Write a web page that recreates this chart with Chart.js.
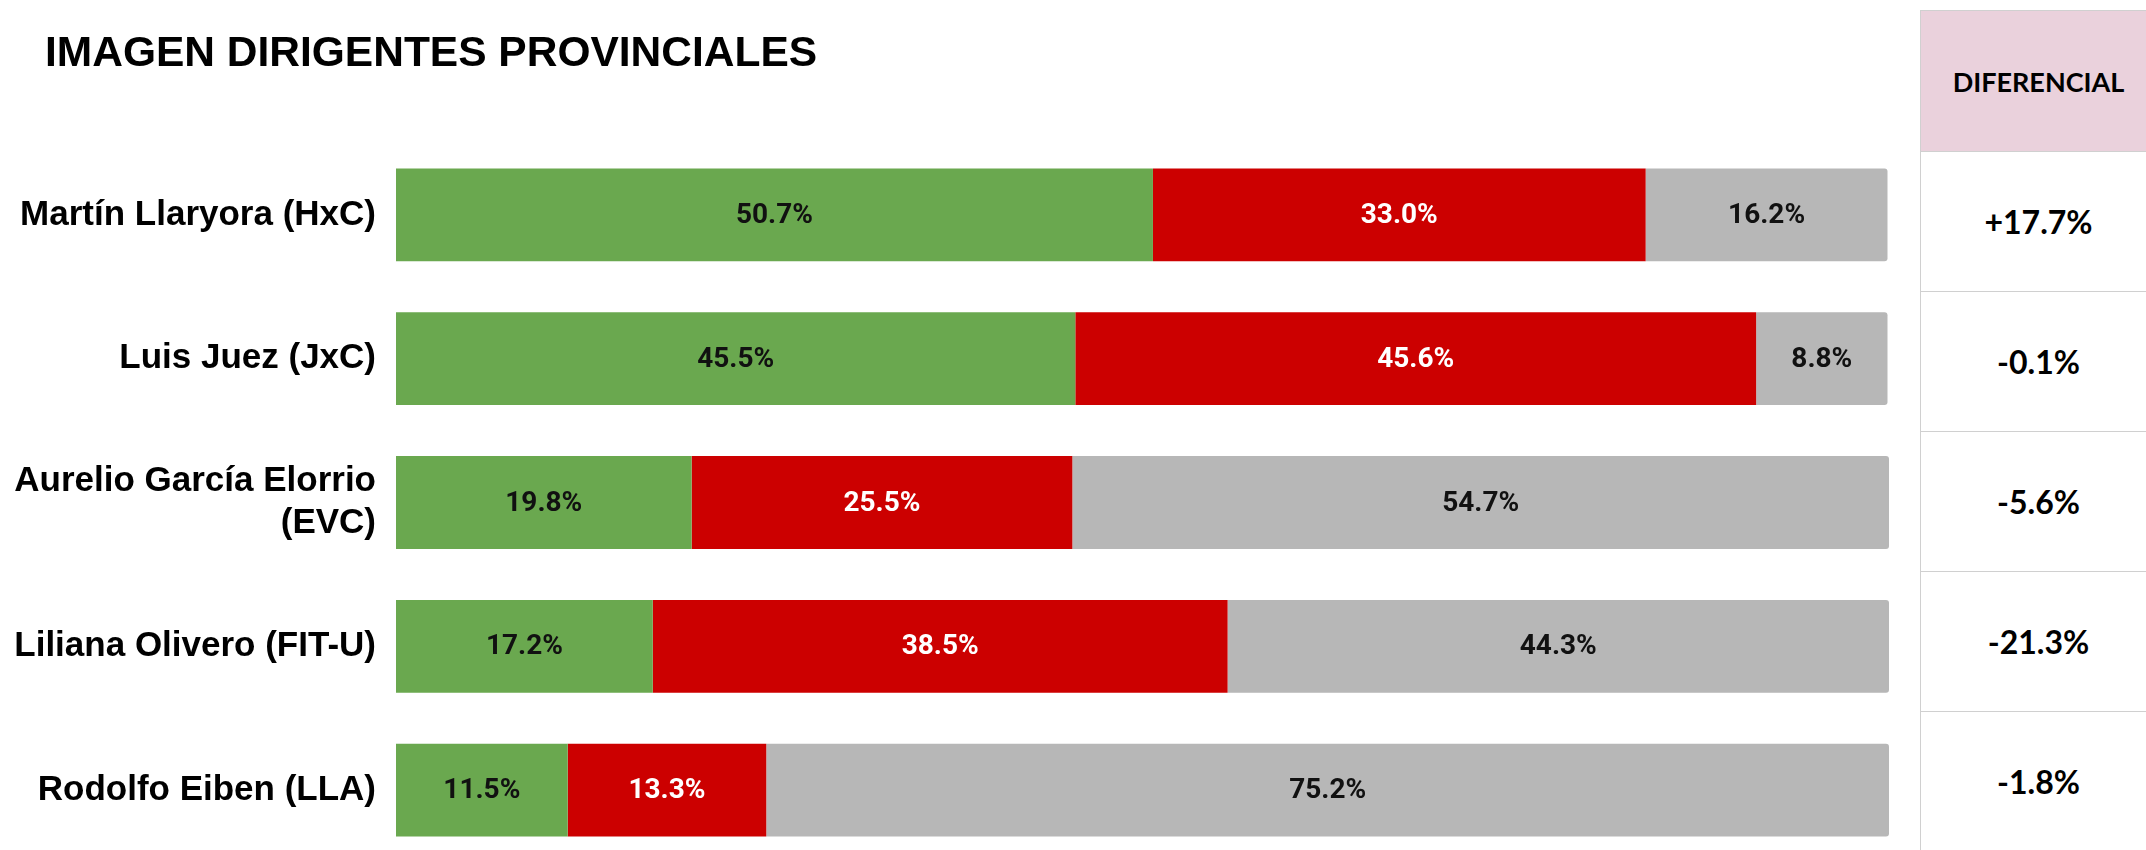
<!DOCTYPE html>
<html lang="es">
<head>
<meta charset="utf-8">
<title>Imagen dirigentes provinciales</title>
<script src="https://cdn.jsdelivr.net/npm/chart.js@4.4.1/dist/chart.umd.min.js"></script>
<style>
  html, body { margin: 0; padding: 0; background: #fff; overflow: hidden; width: 2146px; height: 850px; }
  #wrap { position: absolute; left: 0; top: 0; }
  #titulo { position: absolute; left: 45px; top: 30px; font: bold 42.5px/43px "Liberation Sans", Arial, sans-serif; color: #000; white-space: nowrap; }
  #tabla { position: absolute; left: 1920px; top: 10px; width: 236px; font-family: Lato, "Open Sans", sans-serif; font-weight: 700; color: #000; }
  #tabla .celda { box-sizing: border-box; display: flex; align-items: center; justify-content: center; border-left: 1px solid #d0d0d0; border-bottom: 1px solid #d0d0d0; }
  #tabla .cab { height: 142px; background: #ead1dc; border-top: 1px solid #d0d0d0; font-size: 27px; }
  #tabla .val { height: 140px; font-size: 32px; }
</style>
</head>
<body>
<div id="wrap"><canvas id="imagenChart" width="1910" height="910"></canvas></div>
<div id="titulo"></div>
<div id="tabla"></div>
<script>
// Datos
const titulo = 'IMAGEN DIRIGENTES PROVINCIALES';
const dirigentes = ['Martín Llaryora (HxC)', 'Luis Juez (JxC)', ['Aurelio García Elorrio', '(EVC)'], 'Liliana Olivero (FIT-U)', 'Rodolfo Eiben (LLA)'];
const positiva = [50.7, 45.5, 19.8, 17.2, 11.5];
const negativa = [33.0, 45.6, 25.5, 38.5, 13.3];
const nsnc = [16.2, 8.8, 54.7, 44.3, 75.2];
const diferencial = ['+17.7%', '-0.1%', '-5.6%', '-21.3%', '-1.8%'];
const tituloTabla = 'DIFERENCIAL';

document.getElementById('titulo').textContent = titulo;

// Tabla lateral
const tabla = document.getElementById('tabla');
tabla.innerHTML = `<div class="celda cab">${tituloTabla}</div>` +
  diferencial.map(d => `<div class="celda val">${d}</div>`).join('');

// etiquetas dentro de las barras
const etiquetasBarras = {
  id: 'etiquetasBarras',
  afterDatasetsDraw(chart) {
    const ctx = chart.ctx;
    ctx.save();
    ctx.font = 'bold 28px Roboto, "Liberation Sans", Arial, sans-serif';
    ctx.textAlign = 'center';
    ctx.textBaseline = 'middle';
    chart.data.datasets.forEach((ds, i) => {
      const meta = chart.getDatasetMeta(i);
      ctx.fillStyle = ds.labelColor;
      meta.data.forEach((bar, j) => {
        const p = bar.getCenterPoint();
        ctx.fillText(ds.data[j].toFixed(1) + '%', p.x, p.y + 1);
      });
    });
    ctx.restore();
  }
};

const ctx = document.getElementById('imagenChart').getContext('2d');
const imagenChart = new Chart(ctx, {
  type: 'bar',
  data: {
    labels: dirigentes,
    datasets: [
      { label: 'Positiva', data: positiva, backgroundColor: '#6aa84f', labelColor: '#111' },
      { label: 'Negativa', data: negativa, backgroundColor: '#cc0000', labelColor: '#fff' },
      { label: 'Ns/Nc', data: nsnc, backgroundColor: '#b7b7b7', labelColor: '#111', borderRadius: 3 }
    ]
  },
  options: {
    indexAxis: 'y',
    responsive: false,
    devicePixelRatio: 1,
    animation: false,
    barPercentage: 0.645,
    categoryPercentage: 1,
    layout: {
      padding: { left: 4, right: 21, top: 143, bottom: 48 }
    },
    plugins: {
      legend: { display: false },
      tooltip: { enabled: false }
    },
    scales: {
      x: {
        stacked: true,
        min: 0,
        max: 100,
        display: false
      },
      y: {
        stacked: true,
        grid: { display: false, drawTicks: false, tickLength: 0 },
        border: { display: false },
        ticks: {
          color: '#000',
          padding: 20,
          font: { family: '"Liberation Sans", Arial, sans-serif', size: 35, weight: 'bold', lineHeight: 1.19 }
        },
        afterFit(scale) {
          scale.width = 392;
        }
      }
    }
  },
  plugins: [etiquetasBarras]
});
</script>
</body>
</html>
